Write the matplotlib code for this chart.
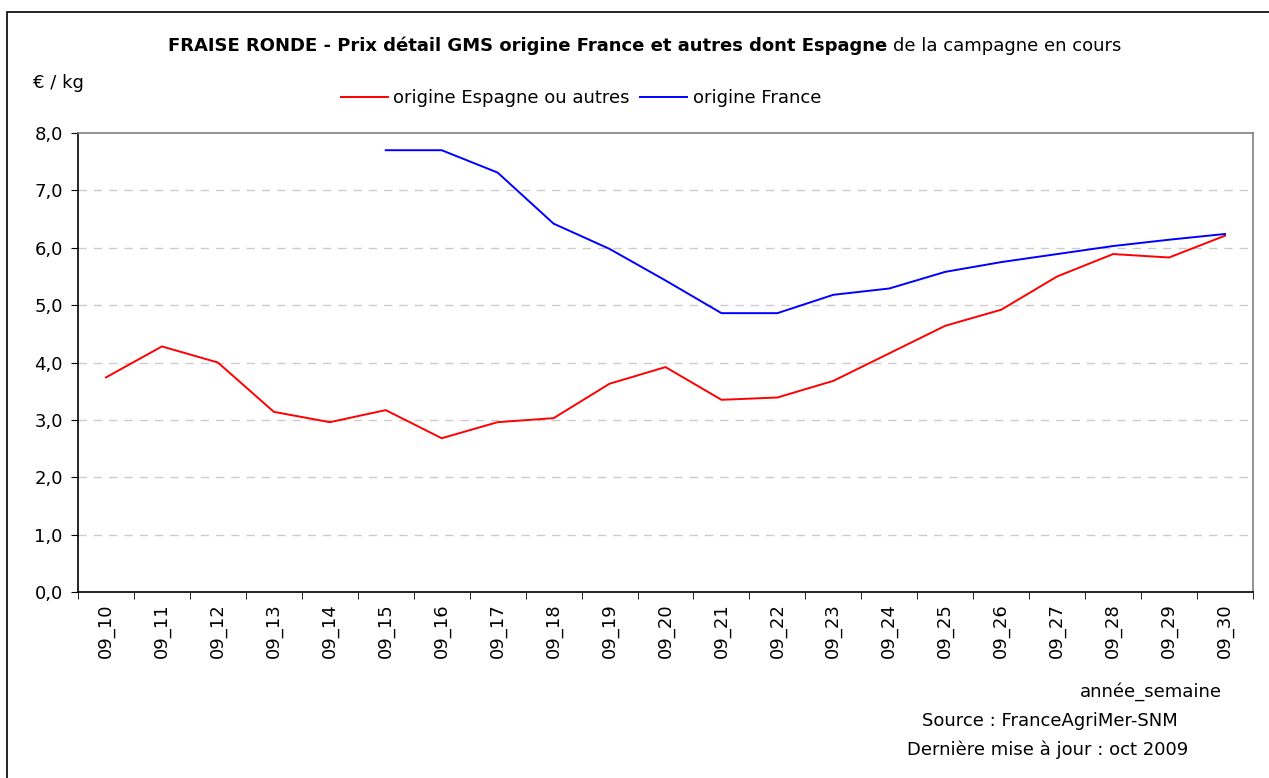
import numpy as np
import matplotlib
matplotlib.use("Agg")
import matplotlib.pyplot as plt
from matplotlib.lines import Line2D
from matplotlib.patches import Rectangle

plt.rcParams["font.family"] = ["DejaVu Sans"]
FS = 13

# Données
semaines = ["09_10", "09_11", "09_12", "09_13", "09_14", "09_15", "09_16",
            "09_17", "09_18", "09_19", "09_20", "09_21", "09_22", "09_23",
            "09_24", "09_25", "09_26", "09_27", "09_28", "09_29", "09_30"]
prix_espagne = [3.74, 4.28, 4.00, 3.14, 2.96, 3.17, 2.68, 2.96, 3.03, 3.63,
                3.92, 3.35, 3.39, 3.68, 4.16, 4.64, 4.92, 5.50, 5.89, 5.83, 6.21]
prix_france = [np.nan, np.nan, np.nan, np.nan, np.nan, 7.70, 7.70, 7.31, 6.42,
               5.98, 5.43, 4.86, 4.86, 5.18, 5.29, 5.58, 5.75, 5.89, 6.03,
               6.14, 6.24]
y_ticks = [0, 1, 2, 3, 4, 5, 6, 7, 8]

W, H = 1269, 778
fig = plt.figure(figsize=(W / 100, H / 100), dpi=100)
ax = fig.add_axes([78 / W, 1 - 592 / H, (1253 - 78) / W, (592 - 133) / H])

# cadre du graphique
fig.patches.append(Rectangle((7 / W, -0.05), 1.1, 1 - 12 / H + 0.05,
                             transform=fig.transFigure, fill=False,
                             edgecolor="black", linewidth=1.2))

x = np.arange(len(semaines))
ax.plot(x, prix_espagne, color="#ff0000", linewidth=1.4)
ax.plot(x, prix_france, color="#0000ff", linewidth=1.4)

ax.set_xlim(-0.5, len(semaines) - 0.5)
ax.set_ylim(0, 8)
ax.set_yticks(y_ticks)
ax.set_yticklabels([f"{v:.1f}".replace(".", ",") for v in y_ticks], fontsize=FS)
ax.set_xticks(x)
ax.set_xticklabels(semaines, rotation=90, fontsize=FS)
ax.set_xticks(np.arange(-0.5, len(semaines)), minor=True)
ax.tick_params(axis="x", which="major", length=0, pad=8)
ax.tick_params(axis="x", which="minor", length=5, direction="out", color="black")
ax.tick_params(axis="y", length=5, direction="out", pad=6)

for v in y_ticks[1:-1]:
    ax.axhline(v, color="#cccccc", linewidth=1, linestyle=(0, (6, 5)), zorder=0)

ax.spines["left"].set_color("black")
ax.spines["bottom"].set_color("black")
ax.spines["top"].set_color("#808080")
ax.spines["right"].set_color("#808080")
for s in ax.spines.values():
    s.set_linewidth(1.2)

# Titre (partie grasse + partie normale), centré
renderer = fig.canvas.get_renderer()
ty = 1 - 46 / H
t1 = fig.text(0, ty, "FRAISE RONDE - Prix détail GMS origine France et autres dont Espagne",
              fontsize=FS, fontweight="bold", va="center", ha="left")
t2 = fig.text(0, ty, "de la campagne en cours", fontsize=FS, va="center", ha="left")
w1 = t1.get_window_extent(renderer).width
w2 = t2.get_window_extent(renderer).width
x0 = 645 - (w1 + 6 + w2) / 2
t1.set_x(x0 / W)
t2.set_x((x0 + w1 + 6) / W)

fig.text(33 / W, 1 - 83 / H, "€ / kg", fontsize=FS, va="center", ha="left")

# Légende
fig.legend(handles=[Line2D([], [], color="#ff0000", linewidth=1.4),
                    Line2D([], [], color="#0000ff", linewidth=1.4)],
           labels=["origine Espagne ou autres", "origine France"],
           loc="center", bbox_to_anchor=(581 / W, 1 - 98 / H),
           ncol=2, frameon=False, fontsize=FS, handlelength=2.6,
           handletextpad=0.3, columnspacing=0.6)

fig.text(1222 / W, 1 - 692 / H, "année_semaine", fontsize=FS, ha="right", va="center")
fig.text(1050 / W, 1 - 721 / H, "Source : FranceAgriMer-SNM", fontsize=FS, ha="center", va="center")
fig.text(1048 / W, 1 - 750 / H, "Dernière mise à jour : oct 2009", fontsize=FS, ha="center", va="center")

fig.savefig("out.png", dpi=100)
